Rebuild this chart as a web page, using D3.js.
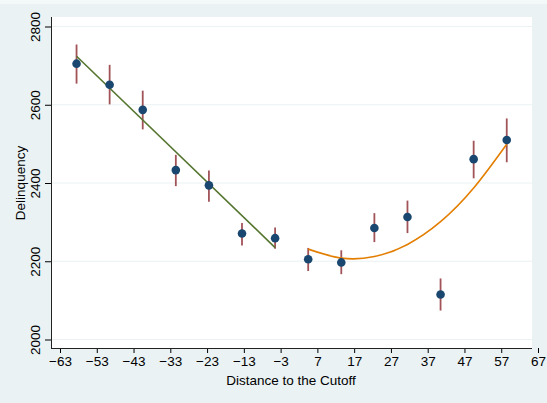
<!DOCTYPE html>
<html>
<head>
<meta charset="utf-8">
<script src="https://cdn.jsdelivr.net/npm/d3@7"></script>
<style>
html,body{margin:0;padding:0;background:#eaf2f3;}
svg{display:block;}
text{font-family:"Liberation Sans",Arial,sans-serif;fill:#000;}
</style>
</head>
<body>
<svg id="chart" width="547" height="403"></svg>
<script>
// Bin centers (distance to cutoff)
const binX = [-58.5, -49.5, -40.5, -31.5, -22.5, -13.5, -4.5, 4.5, 13.5, 22.5, 31.5, 40.5, 49.5, 58.5];
// Mean delinquency per bin
const meanY = [2705, 2651, 2587, 2433, 2394, 2271, 2259, 2205, 2197, 2285, 2313, 2115, 2461, 2510];
// Confidence interval bounds
const lowerY = [2654, 2601, 2537, 2392, 2352, 2240, 2232, 2175, 2167, 2249, 2272, 2074, 2412, 2453];
const upperY = [2754, 2702, 2636, 2472, 2432, 2298, 2286, 2234, 2228, 2323, 2355, 2156, 2508, 2565];
// Linear fit left of cutoff
const fitLeftX = [-58.5, -4.5];
const fitLeftY = [2724, 2235];
// Quadratic fit right of cutoff
const fitRightX = [4.5, 13.5, 22.5, 31.5, 40.5, 49.5, 58.5];
const fitRightY = [2231, 2208, 2212, 2243, 2301, 2387, 2499];
// Tick labels
const xTicks = [-63, -53, -43, -33, -23, -13, -3, 7, 17, 27, 37, 47, 57, 67];
const yTicks = [2000, 2200, 2400, 2600, 2800];

const svg = d3.select("#chart");
const plotL = 51, plotR = 532, plotT = 17, plotB = 348;
const FS = 13.5;

const x = d3.scaleLinear().domain([-63, 67]).range([60, 538]);
const y = d3.scaleLinear().domain([2000, 2800]).range([339.5, 26.5]);

// background
svg.append("rect").attr("width", 547).attr("height", 403).attr("fill", "#eaf2f3");
svg.append("rect").attr("width", 547).attr("height", 4).attr("fill", "#f3f8f8");
// plot region
svg.append("rect").attr("x", plotL).attr("y", plotT)
  .attr("width", plotR - plotL).attr("height", plotB - plotT).attr("fill", "#ffffff");

// gridlines
svg.append("g").selectAll("line").data(yTicks).join("line")
  .attr("x1", plotL).attr("x2", plotR)
  .attr("y1", d => y(d)).attr("y2", d => y(d))
  .attr("stroke", "#eaf2f3").attr("stroke-width", 1);

// Y axis
const yAxis = d3.axisLeft(y).tickValues(yTicks).tickFormat(d3.format("d")).tickSize(6);
const gy = svg.append("g").attr("transform", `translate(${plotL},0)`).call(yAxis);
gy.select(".domain").remove();
gy.selectAll(".tick line").attr("stroke", "#000");
gy.selectAll(".tick text")
  .attr("font-size", FS)
  .attr("text-anchor", "middle")
  .attr("x", 0).attr("y", 0).attr("dy", 0)
  .attr("transform", "translate(-11,0) rotate(-90)");
svg.append("line").attr("x1", plotL + 0.5).attr("x2", plotL + 0.5)
  .attr("y1", plotT).attr("y2", plotB).attr("stroke", "#222").attr("stroke-width", 1);

// X axis
const xAxis = d3.axisBottom(x).tickValues(xTicks).tickSize(5).tickPadding(3);
const gx = svg.append("g").attr("transform", `translate(0,${plotB})`).call(xAxis);
gx.select(".domain").remove();
gx.selectAll(".tick line").attr("stroke", "#000");
gx.selectAll(".tick text").attr("font-size", FS);
svg.append("line").attr("x1", plotL).attr("x2", plotR)
  .attr("y1", plotB + 0.5).attr("y2", plotB + 0.5).attr("stroke", "#222").attr("stroke-width", 1);

// axis titles
svg.append("text").attr("transform", `translate(25,183) rotate(-90)`)
  .attr("text-anchor", "middle").attr("font-size", FS).text("Delinquency");
svg.append("text").attr("x", 291).attr("y", 385)
  .attr("text-anchor", "middle").attr("font-size", FS).text("Distance to the Cutoff");

const pts = binX.map((d, i) => ({x: d, m: meanY[i], lo: lowerY[i], hi: upperY[i]}));

// error bars
svg.append("g").selectAll("line").data(pts).join("line")
  .attr("x1", d => x(d.x)).attr("x2", d => x(d.x))
  .attr("y1", d => y(d.lo)).attr("y2", d => y(d.hi))
  .attr("stroke", "#90353b").attr("stroke-width", 1.8).attr("stroke-opacity", 0.85);

// fit lines
const line = d3.line().x(d => x(d[0])).y(d => y(d[1]));
svg.append("path").datum(fitLeftX.map((d, i) => [d, fitLeftY[i]]))
  .attr("d", line).attr("fill", "none").attr("stroke", "#55752f").attr("stroke-width", 1.6);
svg.append("path").datum(fitRightX.map((d, i) => [d, fitRightY[i]]))
  .attr("d", line.curve(d3.curveNatural)).attr("fill", "none").attr("stroke", "#e37e00").attr("stroke-width", 1.6);

// markers
svg.append("g").selectAll("circle").data(pts).join("circle")
  .attr("cx", d => x(d.x)).attr("cy", d => y(d.m)).attr("r", 4.3)
  .attr("fill", "#1a476f");
</script>
</body>
</html>
